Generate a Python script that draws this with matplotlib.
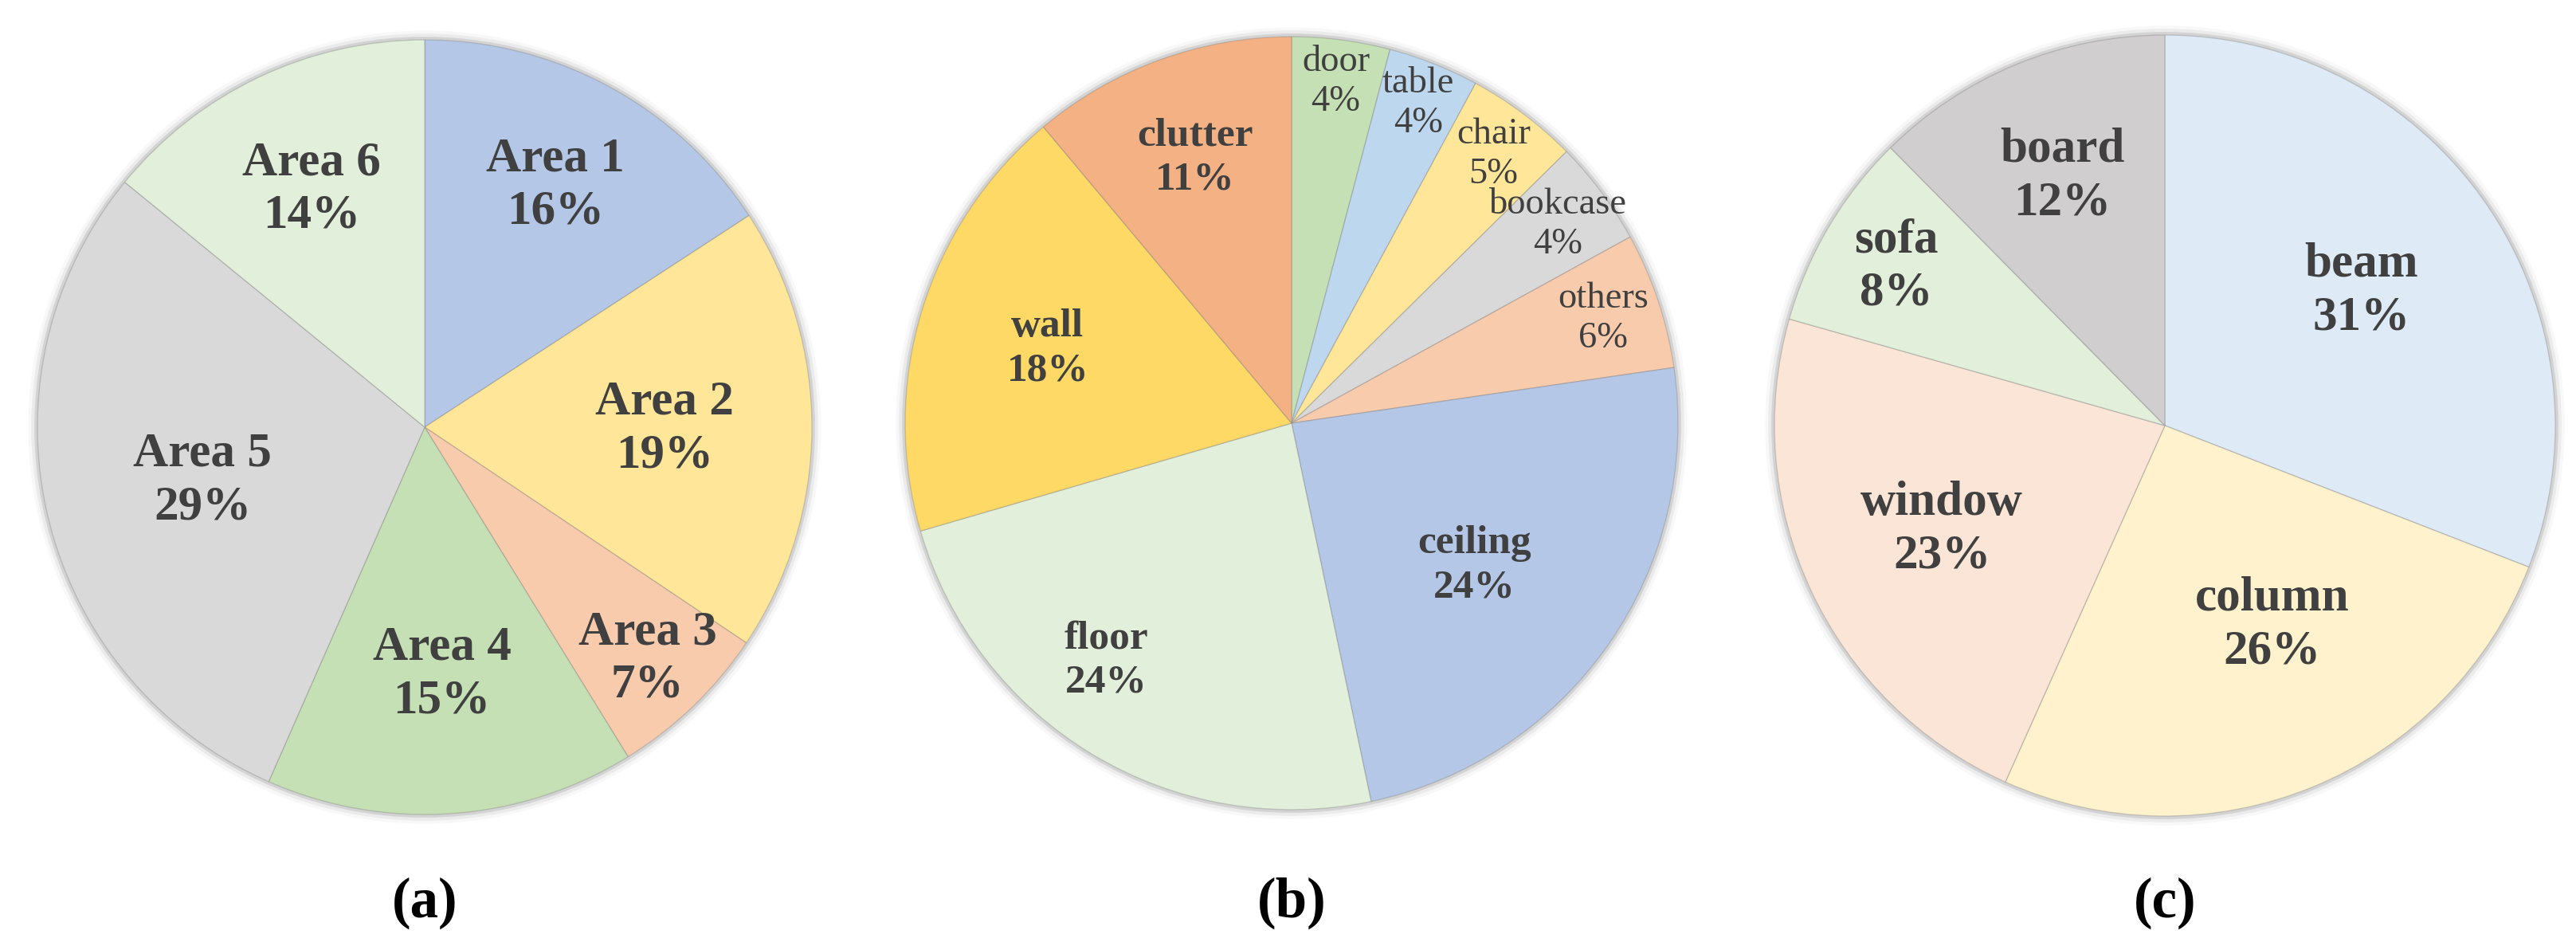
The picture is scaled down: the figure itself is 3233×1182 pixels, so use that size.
import numpy as np
import matplotlib
matplotlib.use('Agg')
import matplotlib.pyplot as plt
from matplotlib.patches import Circle

# (a) share of points per area
area_labels = ['Area 1', 'Area 2', 'Area 3', 'Area 4', 'Area 5', 'Area 6']
area_values = [15.8, 18.6, 6.8, 15.4, 29.3, 14.1]
area_colors = ['#B4C7E7', '#FFE699', '#F8CBAD', '#C5E0B4', '#D9D9D9', '#E2EFDA']

# (b) share of points per class
class_labels = ['door', 'table', 'chair', 'bookcase', 'others', 'ceiling', 'floor', 'wall', 'clutter']
class_values = [4.1, 3.8, 4.7, 4.4, 5.7, 24.0, 23.8, 18.4, 11.1]
class_colors = ['#C5E0B4', '#BDD7EE', '#FFE699', '#D9D9D9', '#F8CBAD',
                '#B4C7E7', '#E2EFDA', '#FFD966', '#F4B183']
class_bold = [False, False, False, False, False, True, True, True, True]

# (c) share of the rare classes
rare_labels = ['beam', 'column', 'window', 'sofa', 'board']
rare_values = [30.9, 25.8, 22.7, 8.2, 12.4]
rare_colors = ['#DEEBF7', '#FFF2CC', '#FBE5D6', '#E2EFDA', '#D0CECE']

# label placement: distance from centre (fraction of radius) and
# clockwise shift from the slice middle (degrees)
area_label_r = [0.71, 0.62, 0.83, 0.64, 0.59, 0.68]
area_label_da = [0, 0, 0, 0, 0, 0]
class_label_r = [0.89, 0.89, 0.87, 0.86, 0.85, 0.60, 0.78, 0.66, 0.73]
class_label_da = [0, 0, 0, 0, 0, 3, 7, 0, 0]
rare_label_r = [0.61, 0.58, 0.63, 0.80, 0.69]
rare_label_da = [0, -6, 0, 0, 0]

W, H = 3233, 1182
TEXT = '#404040'
FONT = 'Liberation Serif'
PAD = 1.04


def draw_pie(fig, cx, cy, radius, labels, values, colors, label_r, label_da, bold,
             fontsize, caption):
    rr = radius * PAD
    ax = fig.add_axes([(cx - rr) / W, 1 - (cy + rr) / H, 2 * rr / W, 2 * rr / H])
    # soft shadow around the rim
    for r, a in [(1.024, 0.05), (1.016, 0.10), (1.008, 0.22)]:
        ax.add_patch(Circle((0, 0), r, color='#7f7f7f', alpha=a, lw=0, zorder=0))
    wedges, _ = ax.pie(values, colors=colors, startangle=90, counterclock=False, radius=1,
                       wedgeprops=dict(edgecolor=(0.45, 0.45, 0.45, 0.3), linewidth=1))
    for w, lab, v, lr, da, b in zip(wedges, labels, values, label_r, label_da, bold):
        ang = np.deg2rad((w.theta1 + w.theta2) / 2 - da)
        fs = fontsize if b else fontsize - 3.5
        ax.text(lr * np.cos(ang), lr * np.sin(ang), f'{lab}\n{v:.0f}%', ha='center', va='center',
                fontsize=fs, fontweight='bold' if b else 'normal', family=FONT,
                color=TEXT, linespacing=1.25)
    ax.set_xlim(-PAD, PAD)
    ax.set_ylim(-PAD, PAD)
    ax.axis('off')
    fig.text(cx / W, 1 - 1133 / H, caption, ha='center', va='center', fontsize=51,
             fontweight='bold', family=FONT, color='black')


fig = plt.figure(figsize=(W / 100, H / 100), dpi=100)
fig.patch.set_facecolor('white')

draw_pie(fig, 533, 536, 486, area_labels, area_values, area_colors, area_label_r,
         area_label_da, [True] * len(area_labels), 44, '(a)')
draw_pie(fig, 1621, 531, 485, class_labels, class_values, class_colors, class_label_r,
         class_label_da, class_bold, 37, '(b)')
draw_pie(fig, 2717, 534, 490, rare_labels, rare_values, rare_colors, rare_label_r,
         rare_label_da, [True] * len(rare_labels), 44, '(c)')

fig.savefig('out.png', dpi=100, facecolor='white')
